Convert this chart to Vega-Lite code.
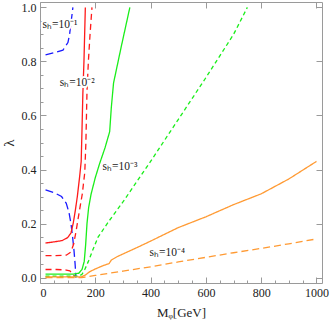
{
  "$schema": "https://vega.github.io/schema/vega-lite/v6.json",
  "width": 282,
  "height": 281,
  "autosize": {"type": "none"},
  "padding": {"left": 40, "top": 2, "right": 10, "bottom": 42},
  "config": {
    "view": {"stroke": "#9a9a9a", "strokeWidth": 1},
    "axis": {
      "domain": false,
      "grid": false,
      "tickColor": "#9a9a9a",
      "labelFont": "Liberation Serif",
      "labelFontSize": 12,
      "labelColor": "#222222",
      "titleFont": "Liberation Serif",
      "titleFontWeight": "normal",
      "titleColor": "#222222",
      "titleFontSize": 13
    }
  },
  "layer": [
    {
      "data": {
        "values": [
          {"m": 20, "lam": 0.824, "sh": "-1", "curve": "dashed", "branch": "b1u"},
          {"m": 50, "lam": 0.832, "sh": "-1", "curve": "dashed", "branch": "b1u"},
          {"m": 83, "lam": 0.842, "sh": "-1", "curve": "dashed", "branch": "b1u"},
          {"m": 101, "lam": 0.87, "sh": "-1", "curve": "dashed", "branch": "b1u"},
          {"m": 107, "lam": 0.9, "sh": "-1", "curve": "dashed", "branch": "b1u"},
          {"m": 113, "lam": 0.95, "sh": "-1", "curve": "dashed", "branch": "b1u"},
          {"m": 119, "lam": 1.0, "sh": "-1", "curve": "dashed", "branch": "b1u"},
          {"m": 20, "lam": 0.325, "sh": "-1", "curve": "dashed", "branch": "b1l"},
          {"m": 50, "lam": 0.315, "sh": "-1", "curve": "dashed", "branch": "b1l"},
          {"m": 78, "lam": 0.3, "sh": "-1", "curve": "dashed", "branch": "b1l"},
          {"m": 95, "lam": 0.275, "sh": "-1", "curve": "dashed", "branch": "b1l"},
          {"m": 105, "lam": 0.24, "sh": "-1", "curve": "dashed", "branch": "b1l"},
          {"m": 112, "lam": 0.2, "sh": "-1", "curve": "dashed", "branch": "b1l"},
          {"m": 118, "lam": 0.15, "sh": "-1", "curve": "dashed", "branch": "b1l"},
          {"m": 123, "lam": 0.1, "sh": "-1", "curve": "dashed", "branch": "b1l"},
          {"m": 127, "lam": 0.05, "sh": "-1", "curve": "dashed", "branch": "b1l"},
          {"m": 130, "lam": 0.0, "sh": "-1", "curve": "dashed", "branch": "b1l"},
          {"m": 20, "lam": 0.128, "sh": "-2", "curve": "solid", "branch": "r_s"},
          {"m": 50, "lam": 0.132, "sh": "-2", "curve": "solid", "branch": "r_s"},
          {"m": 80, "lam": 0.137, "sh": "-2", "curve": "solid", "branch": "r_s"},
          {"m": 100, "lam": 0.148, "sh": "-2", "curve": "solid", "branch": "r_s"},
          {"m": 112, "lam": 0.165, "sh": "-2", "curve": "solid", "branch": "r_s"},
          {"m": 120, "lam": 0.2, "sh": "-2", "curve": "solid", "branch": "r_s"},
          {"m": 128, "lam": 0.25, "sh": "-2", "curve": "solid", "branch": "r_s"},
          {"m": 135, "lam": 0.3, "sh": "-2", "curve": "solid", "branch": "r_s"},
          {"m": 143, "lam": 0.37, "sh": "-2", "curve": "solid", "branch": "r_s"},
          {"m": 149, "lam": 0.43, "sh": "-2", "curve": "solid", "branch": "r_s"},
          {"m": 152, "lam": 0.55, "sh": "-2", "curve": "solid", "branch": "r_s"},
          {"m": 155, "lam": 0.68, "sh": "-2", "curve": "solid", "branch": "r_s"},
          {"m": 159, "lam": 0.8, "sh": "-2", "curve": "solid", "branch": "r_s"},
          {"m": 164, "lam": 1.0, "sh": "-2", "curve": "solid", "branch": "r_s"},
          {"m": 20, "lam": 0.081, "sh": "-2", "curve": "dashed", "branch": "r_d"},
          {"m": 50, "lam": 0.081, "sh": "-2", "curve": "dashed", "branch": "r_d"},
          {"m": 95, "lam": 0.083, "sh": "-2", "curve": "dashed", "branch": "r_d"},
          {"m": 112, "lam": 0.095, "sh": "-2", "curve": "dashed", "branch": "r_d"},
          {"m": 122, "lam": 0.125, "sh": "-2", "curve": "dashed", "branch": "r_d"},
          {"m": 131, "lam": 0.175, "sh": "-2", "curve": "dashed", "branch": "r_d"},
          {"m": 143, "lam": 0.25, "sh": "-2", "curve": "dashed", "branch": "r_d"},
          {"m": 153, "lam": 0.31, "sh": "-2", "curve": "dashed", "branch": "r_d"},
          {"m": 162, "lam": 0.39, "sh": "-2", "curve": "dashed", "branch": "r_d"},
          {"m": 166, "lam": 0.5, "sh": "-2", "curve": "dashed", "branch": "r_d"},
          {"m": 170, "lam": 0.69, "sh": "-2", "curve": "dashed", "branch": "r_d"},
          {"m": 175, "lam": 0.8, "sh": "-2", "curve": "dashed", "branch": "r_d"},
          {"m": 181, "lam": 0.9, "sh": "-2", "curve": "dashed", "branch": "r_d"},
          {"m": 188, "lam": 1.0, "sh": "-2", "curve": "dashed", "branch": "r_d"},
          {"m": 20, "lam": 0.03, "sh": "-2", "curve": "dashed", "branch": "r_d2"},
          {"m": 60, "lam": 0.03, "sh": "-2", "curve": "dashed", "branch": "r_d2"},
          {"m": 95, "lam": 0.028, "sh": "-2", "curve": "dashed", "branch": "r_d2"},
          {"m": 108, "lam": 0.025, "sh": "-2", "curve": "dashed", "branch": "r_d2"},
          {"m": 118, "lam": 0.015, "sh": "-2", "curve": "dashed", "branch": "r_d2"},
          {"m": 125, "lam": 0.005, "sh": "-2", "curve": "dashed", "branch": "r_d2"},
          {"m": 20, "lam": 0.013, "sh": "-3", "curve": "solid", "branch": "g_s"},
          {"m": 60, "lam": 0.013, "sh": "-3", "curve": "solid", "branch": "g_s"},
          {"m": 120, "lam": 0.013, "sh": "-3", "curve": "solid", "branch": "g_s"},
          {"m": 140, "lam": 0.016, "sh": "-3", "curve": "solid", "branch": "g_s"},
          {"m": 152, "lam": 0.03, "sh": "-3", "curve": "solid", "branch": "g_s"},
          {"m": 160, "lam": 0.06, "sh": "-3", "curve": "solid", "branch": "g_s"},
          {"m": 165, "lam": 0.12, "sh": "-3", "curve": "solid", "branch": "g_s"},
          {"m": 170, "lam": 0.2, "sh": "-3", "curve": "solid", "branch": "g_s"},
          {"m": 176, "lam": 0.26, "sh": "-3", "curve": "solid", "branch": "g_s"},
          {"m": 185, "lam": 0.31, "sh": "-3", "curve": "solid", "branch": "g_s"},
          {"m": 200, "lam": 0.37, "sh": "-3", "curve": "solid", "branch": "g_s"},
          {"m": 215, "lam": 0.42, "sh": "-3", "curve": "solid", "branch": "g_s"},
          {"m": 235, "lam": 0.48, "sh": "-3", "curve": "solid", "branch": "g_s"},
          {"m": 252, "lam": 0.54, "sh": "-3", "curve": "solid", "branch": "g_s"},
          {"m": 258, "lam": 0.63, "sh": "-3", "curve": "solid", "branch": "g_s"},
          {"m": 266, "lam": 0.72, "sh": "-3", "curve": "solid", "branch": "g_s"},
          {"m": 295, "lam": 0.86, "sh": "-3", "curve": "solid", "branch": "g_s"},
          {"m": 325, "lam": 1.0, "sh": "-3", "curve": "solid", "branch": "g_s"},
          {"m": 20, "lam": 0.005, "sh": "-3", "curve": "dashed", "branch": "g_d"},
          {"m": 140, "lam": 0.005, "sh": "-3", "curve": "dashed", "branch": "g_d"},
          {"m": 152, "lam": 0.012, "sh": "-3", "curve": "dashed", "branch": "g_d"},
          {"m": 162, "lam": 0.03, "sh": "-3", "curve": "dashed", "branch": "g_d"},
          {"m": 175, "lam": 0.06, "sh": "-3", "curve": "dashed", "branch": "g_d"},
          {"m": 190, "lam": 0.1, "sh": "-3", "curve": "dashed", "branch": "g_d"},
          {"m": 210, "lam": 0.15, "sh": "-3", "curve": "dashed", "branch": "g_d"},
          {"m": 250, "lam": 0.21, "sh": "-3", "curve": "dashed", "branch": "g_d"},
          {"m": 300, "lam": 0.28, "sh": "-3", "curve": "dashed", "branch": "g_d"},
          {"m": 400, "lam": 0.43, "sh": "-3", "curve": "dashed", "branch": "g_d"},
          {"m": 500, "lam": 0.585, "sh": "-3", "curve": "dashed", "branch": "g_d"},
          {"m": 600, "lam": 0.74, "sh": "-3", "curve": "dashed", "branch": "g_d"},
          {"m": 700, "lam": 0.9, "sh": "-3", "curve": "dashed", "branch": "g_d"},
          {"m": 750, "lam": 1.0, "sh": "-3", "curve": "dashed", "branch": "g_d"},
          {"m": 20, "lam": 0.003, "sh": "-4", "curve": "solid", "branch": "o_s"},
          {"m": 150, "lam": 0.003, "sh": "-4", "curve": "solid", "branch": "o_s"},
          {"m": 165, "lam": 0.01, "sh": "-4", "curve": "solid", "branch": "o_s"},
          {"m": 180, "lam": 0.022, "sh": "-4", "curve": "solid", "branch": "o_s"},
          {"m": 200, "lam": 0.032, "sh": "-4", "curve": "solid", "branch": "o_s"},
          {"m": 230, "lam": 0.045, "sh": "-4", "curve": "solid", "branch": "o_s"},
          {"m": 250, "lam": 0.052, "sh": "-4", "curve": "solid", "branch": "o_s"},
          {"m": 258, "lam": 0.065, "sh": "-4", "curve": "solid", "branch": "o_s"},
          {"m": 280, "lam": 0.078, "sh": "-4", "curve": "solid", "branch": "o_s"},
          {"m": 340, "lam": 0.106, "sh": "-4", "curve": "solid", "branch": "o_s"},
          {"m": 400, "lam": 0.135, "sh": "-4", "curve": "solid", "branch": "o_s"},
          {"m": 500, "lam": 0.185, "sh": "-4", "curve": "solid", "branch": "o_s"},
          {"m": 600, "lam": 0.225, "sh": "-4", "curve": "solid", "branch": "o_s"},
          {"m": 700, "lam": 0.27, "sh": "-4", "curve": "solid", "branch": "o_s"},
          {"m": 800, "lam": 0.31, "sh": "-4", "curve": "solid", "branch": "o_s"},
          {"m": 900, "lam": 0.365, "sh": "-4", "curve": "solid", "branch": "o_s"},
          {"m": 1000, "lam": 0.43, "sh": "-4", "curve": "solid", "branch": "o_s"},
          {"m": 20, "lam": 0.0, "sh": "-4", "curve": "dashed", "branch": "o_d"},
          {"m": 150, "lam": 0.0, "sh": "-4", "curve": "dashed", "branch": "o_d"},
          {"m": 170, "lam": 0.003, "sh": "-4", "curve": "dashed", "branch": "o_d"},
          {"m": 200, "lam": 0.008, "sh": "-4", "curve": "dashed", "branch": "o_d"},
          {"m": 250, "lam": 0.016, "sh": "-4", "curve": "dashed", "branch": "o_d"},
          {"m": 300, "lam": 0.024, "sh": "-4", "curve": "dashed", "branch": "o_d"},
          {"m": 400, "lam": 0.04, "sh": "-4", "curve": "dashed", "branch": "o_d"},
          {"m": 500, "lam": 0.058, "sh": "-4", "curve": "dashed", "branch": "o_d"},
          {"m": 600, "lam": 0.075, "sh": "-4", "curve": "dashed", "branch": "o_d"},
          {"m": 700, "lam": 0.092, "sh": "-4", "curve": "dashed", "branch": "o_d"},
          {"m": 800, "lam": 0.108, "sh": "-4", "curve": "dashed", "branch": "o_d"},
          {"m": 900, "lam": 0.125, "sh": "-4", "curve": "dashed", "branch": "o_d"},
          {"m": 1000, "lam": 0.143, "sh": "-4", "curve": "dashed", "branch": "o_d"}
        ]
      },
      "mark": {"type": "line", "strokeWidth": 1.3, "clip": true},
      "encoding": {
        "x": {
          "field": "m", "type": "quantitative",
          "scale": {"domain": [0, 1020], "nice": false, "zero": false},
          "axis": {
            "orient": "bottom",
            "title": "Mᵩ[GeV]",
            "titlePadding": 8,
            "values": [0,50,100,150,200,250,300,350,400,450,500,550,600,650,700,750,800,850,900,950,1000],
            "format": "d",
            "labelExpr": "datum.value % 200 === 0 ? datum.label : ''",
            "tickSize": {"condition": {"test": "datum.value % 200 === 0", "value": -6}, "value": -3},
            "labelPadding": 10
          }
        },
        "y": {
          "field": "lam", "type": "quantitative",
          "scale": {"domain": [-0.02, 1.02], "nice": false, "zero": false},
          "axis": {
            "orient": "left",
            "title": "λ",
            "titleFontSize": 15,
            "titlePadding": 5,
            "values": [0,0.05,0.1,0.15,0.2,0.25,0.3,0.35,0.4,0.45,0.5,0.55,0.6,0.65,0.7,0.75,0.8,0.85,0.9,0.95,1.0],
            "format": ".1f",
            "labelExpr": "round(datum.value*100) % 20 === 0 ? datum.label : ''",
            "tickSize": {"condition": {"test": "round(datum.value*100) % 20 === 0", "value": -6}, "value": -3},
            "labelPadding": 10
          }
        },
        "color": {
          "field": "sh", "type": "nominal",
          "scale": {"domain": ["-1", "-2", "-3", "-4"], "range": ["#1a1aff", "#ff1a1a", "#1aee1a", "#ff9a33"]},
          "legend": null
        },
        "strokeDash": {
          "field": "branch", "type": "nominal",
          "scale": {
            "domain": ["b1u", "b1l", "r_s", "r_d", "r_d2", "g_s", "g_d", "o_s", "o_d"],
            "range": [[8, 4], [8, 4], [1, 0], [6, 4], [6, 4], [1, 0], [4, 3], [1, 0], [7, 4]]
          },
          "legend": null
        }
      }
    },
    {
      "data": {
        "values": [
          {"m": 72, "lam": 0.934, "txt": "sₕ=10⁻¹"},
          {"m": 135, "lam": 0.72, "txt": "sₕ=10⁻²"},
          {"m": 289, "lam": 0.41, "txt": "sₕ=10⁻³"},
          {"m": 460, "lam": 0.09, "txt": "sₕ=10⁻⁴"}
        ]
      },
      "layer": [
        {
          "mark": {"type": "text", "font": "Liberation Serif", "fontSize": 11.5, "stroke": "white", "strokeWidth": 4, "fill": "white"},
          "encoding": {
            "x": {"field": "m", "type": "quantitative", "scale": {"domain": [0, 1020], "nice": false, "zero": false},
              "axis": {"orient": "top", "title": null, "labels": false,
                "values": [0,50,100,150,200,250,300,350,400,450,500,550,600,650,700,750,800,850,900,950,1000],
                "tickSize": {"condition": {"test": "datum.value % 200 === 0", "value": -6}, "value": -3}}},
            "y": {"field": "lam", "type": "quantitative", "scale": {"domain": [-0.02, 1.02], "nice": false, "zero": false},
              "axis": {"orient": "right", "title": null, "labels": false,
                "values": [0,0.05,0.1,0.15,0.2,0.25,0.3,0.35,0.4,0.45,0.5,0.55,0.6,0.65,0.7,0.75,0.8,0.85,0.9,0.95,1.0],
                "tickSize": {"condition": {"test": "round(datum.value*100) % 20 === 0", "value": -6}, "value": -3}}},
            "text": {"field": "txt"}
          }
        },
        {
          "mark": {"type": "text", "font": "Liberation Serif", "fontSize": 11.5, "fill": "#222222"},
          "encoding": {
            "x": {"field": "m", "type": "quantitative"},
            "y": {"field": "lam", "type": "quantitative"},
            "text": {"field": "txt"}
          }
        }
      ]
    }
  ],
  "resolve": {"axis": {"x": "independent", "y": "independent"}}
}
